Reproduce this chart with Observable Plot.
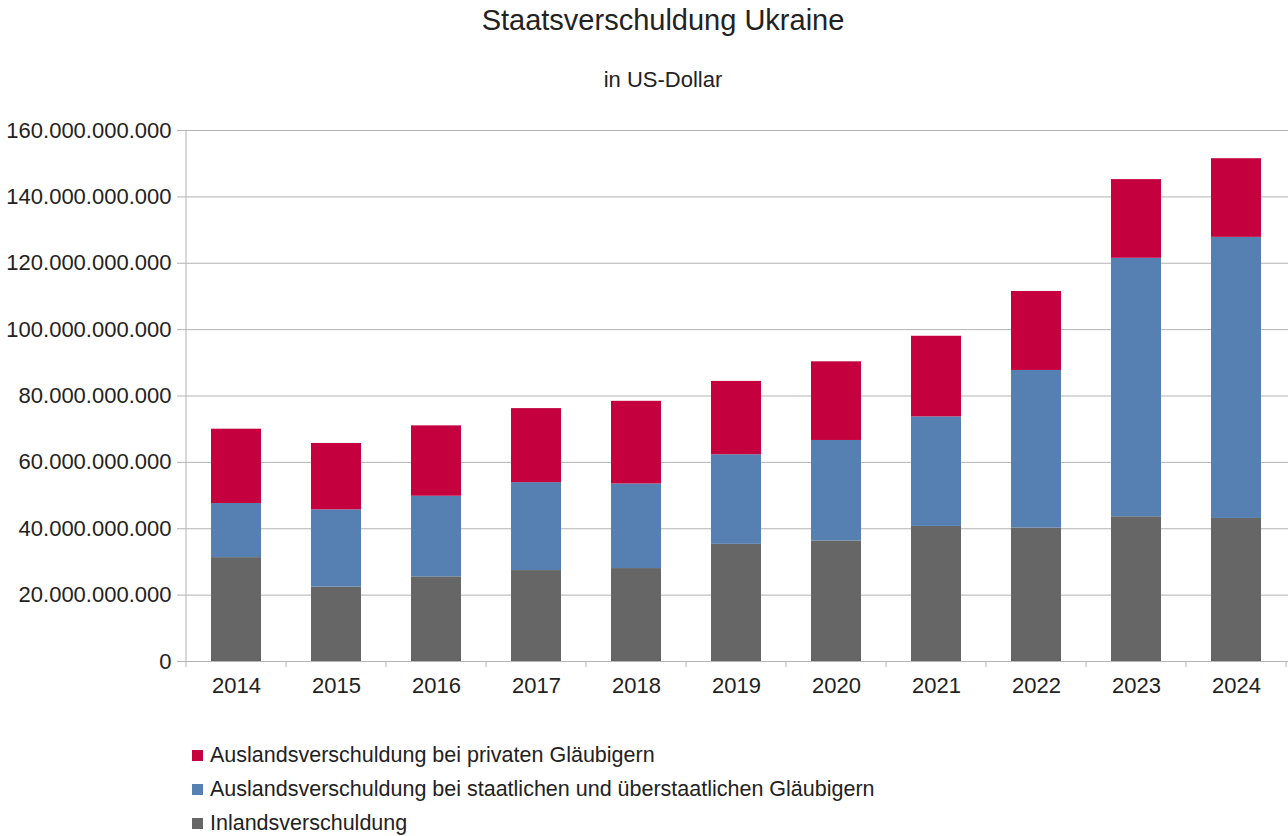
<!DOCTYPE html>
<html><head><meta charset="utf-8">
<script src="https://cdn.jsdelivr.net/npm/d3@7"></script>
<script src="https://cdn.jsdelivr.net/npm/@observablehq/plot@0.6"></script>
<style>
body{margin:0;background:#fff;font-family:"Liberation Sans",Arial,sans-serif;color:#333;}
#wrap{position:relative;width:1288px;height:836px;overflow:hidden;}
#title{position:absolute;top:3px;left:0;width:1326px;text-align:center;font-size:29px;line-height:34px;color:#222;}
#subtitle{position:absolute;top:67px;left:0;width:1326px;text-align:center;font-size:22px;line-height:26px;color:#222;}
#chart{position:absolute;top:100px;left:0;}
#legend{position:absolute;top:738px;left:192px;font-size:21.5px;color:#222;}
.item{height:34px;display:flex;align-items:center;}
.sw{width:11px;height:11px;margin-right:7px;display:inline-block;}
</style></head>
<body><div id="wrap">
<div id="title">Staatsverschuldung Ukraine</div>
<div id="subtitle">in US-Dollar</div>
<div id="chart"></div>
<div id="legend"></div>
</div>
<script>
const years = ["2014","2015","2016","2017","2018","2019","2020","2021","2022","2023","2024"];
// values in billions of US-Dollar
const inland =    [31.3, 22.4, 25.5, 27.4, 28.0, 35.3, 36.3, 40.7, 40.2, 43.6, 43.1];
const staatlich = [16.3, 23.3, 24.3, 26.5, 25.5, 27.0, 30.3, 33.0, 47.5, 77.9, 84.7];
const privat =    [22.4, 20.0, 21.2, 22.3, 24.9, 22.1, 23.7, 24.3, 23.8, 23.7, 23.7];
const seriesNames = [
  "Inlandsverschuldung",
  "Auslandsverschuldung bei staatlichen und überstaatlichen Gläubigern",
  "Auslandsverschuldung bei privaten Gläubigern"
];
const legendLabels = [
  "Auslandsverschuldung bei privaten Gläubigern",
  "Auslandsverschuldung bei staatlichen und überstaatlichen Gläubigern",
  "Inlandsverschuldung"
];
const colors = ["#666666", "#5680b1", "#c5003e"];
const yTicks = [0, 20e9, 40e9, 60e9, 80e9, 100e9, 120e9, 140e9, 160e9];
const unit = 1e9;

const seriesValues = [inland, staatlich, privat];
const data = [];
years.forEach((yr, i) => {
  seriesNames.forEach((s, k) => data.push({year: yr, series: s, value: seriesValues[k][i] * unit}));
});

const de = d3.formatLocale({decimal: ",", thousands: ".", grouping: [3], currency: ["", " $"]});
const fmt = de.format(",.0f");

function frameLines(index, scales) {
  const x = scales.x, y = scales.y;
  const step = x(years[1]) - x(years[0]);
  const g = d3.create("svg:g").attr("stroke", "#b3b3b3").attr("stroke-width", 1);
  const bounds = years.map(v => x(v) - step * 0.25);
  bounds.push(x(years[years.length - 1]) + step * 0.75);
  const y0 = y(0);
  bounds.forEach(b => {
    g.append("line").attr("x1", b).attr("x2", b).attr("y1", y0).attr("y2", y0 + 6);
  });
  g.append("line").attr("x1", bounds[0]).attr("x2", bounds[0]).attr("y1", y(yTicks[yTicks.length-1])).attr("y2", y0);
  return g.node();
}

const chart = Plot.plot({
  width: 1288,
  height: 611,
  marginTop: 30,
  marginBottom: 50,
  marginLeft: 183,
  marginRight: 0,
  style: {fontFamily: '"Liberation Sans", Arial, sans-serif', fontSize: "22px", color: "#333", background: "#fff"},
  x: {domain: years, paddingInner: 0.5, paddingOuter: 0.25, label: null},
  y: {domain: [0, 160e9], label: null},
  color: {domain: seriesNames, range: colors},
  marks: [
    Plot.gridY(yTicks, {stroke: "#b3b3b3", strokeOpacity: 1}),
    Plot.barY(data, {x: "year", y: "value", fill: "series", order: seriesNames}),
    Plot.ruleY([0], {stroke: "#b3b3b3"}),
    frameLines,
    Plot.axisY(yTicks, {tickFormat: fmt, tickSize: 6, tickPadding: 6, stroke: "#b3b3b3", fill: "#222", fontSize: 22, label: null}),
    Plot.axisX({tickSize: 0, tickPadding: 16, fill: "#222", fontSize: 22, label: null})
  ]
});
document.getElementById("chart").appendChild(chart);

const legend = document.getElementById("legend");
legendLabels.forEach(l => {
  const k = seriesNames.indexOf(l);
  const div = document.createElement("div");
  div.className = "item";
  div.innerHTML = `<span class="sw" style="background:${colors[k]}"></span><span>${l}</span>`;
  legend.appendChild(div);
});
</script>
</body></html>
